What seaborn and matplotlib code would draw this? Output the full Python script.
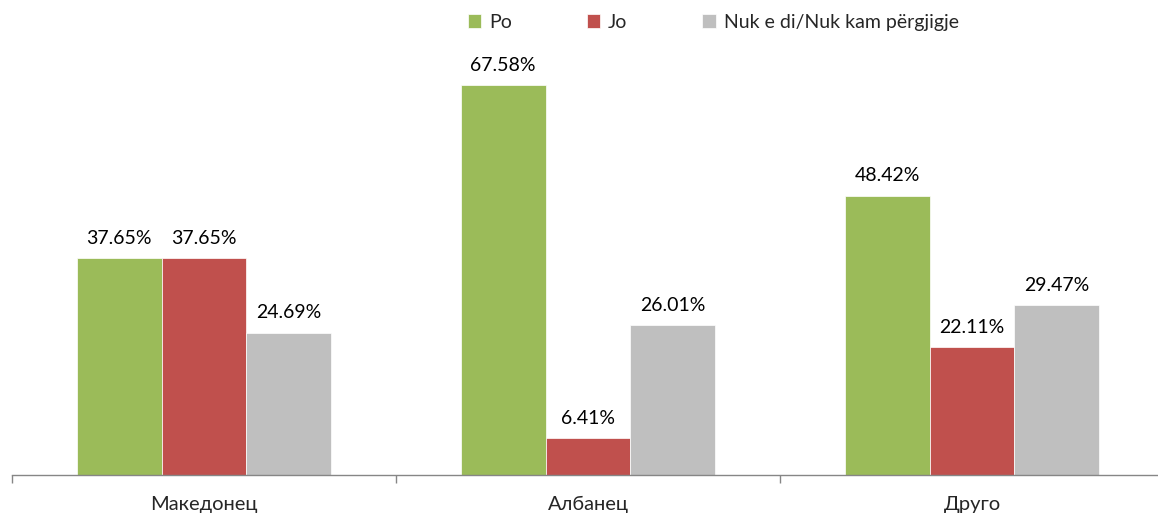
import matplotlib.pyplot as plt
import seaborn as sns
import pandas as pd

sns.set_theme(style="white")
plt.rcParams['font.family'] = ['Lato', 'DejaVu Sans']

categories = ["Македонец", "Албанец", "Друго"]
series = ["Po", "Jo", "Nuk e di/Nuk kam përgjigje"]
values = {
    "Po": [37.65, 67.58, 48.42],
    "Jo": [37.65, 6.41, 22.11],
    "Nuk e di/Nuk kam përgjigje": [24.69, 26.01, 29.47],
}
colors = ["#9BBB59", "#C0504D", "#BFBFBF"]

rows = []
for s in series:
    for c, v in zip(categories, values[s]):
        rows.append({"category": c, "answer": s, "value": v})
df = pd.DataFrame(rows)

fig = plt.figure(figsize=(11.58, 5.17), dpi=100)
ax = fig.add_axes([12 / 1158, 42 / 517, 1152 / 1158, 475 / 517])

sns.barplot(data=df, x="category", y="value", hue="answer", hue_order=series,
            order=categories, palette=colors, width=0.664, saturation=1,
            edgecolor="white", linewidth=0.5, ax=ax)

for cont in ax.containers:
    ax.bar_label(cont, labels=[f"{v:.2f}%" for v in cont.datavalues],
                 padding=8, fontsize=14, color="#000000")

ax.set_xlim(-0.5, 2.5)
ax.set_ylim(0, 82.3)
ax.set_xlabel("")
ax.set_ylabel("")
ax.set_yticks([])
for side in ["top", "right", "left"]:
    ax.spines[side].set_visible(False)
ax.spines["bottom"].set_color("#868686")
ax.spines["bottom"].set_linewidth(1)

ax.set_xticks(range(len(categories)))
ax.set_xticklabels(categories, fontsize=14.5)
ax.tick_params(axis="x", which="major", length=0, pad=15)
ax.set_xticks([-0.5, 0.5, 1.5, 2.5], minor=True)
ax.tick_params(axis="x", which="minor", length=6, width=1, color="#868686",
               direction="out", bottom=True)

leg = ax.legend(loc="upper left", bbox_to_anchor=(442 / 1152, 1.0), ncol=3,
                frameon=False, fontsize=14, handlelength=0.7, handleheight=0.7,
                handletextpad=0.4, columnspacing=3.85, borderaxespad=0.3)

fig.savefig("out.png", dpi=100)
